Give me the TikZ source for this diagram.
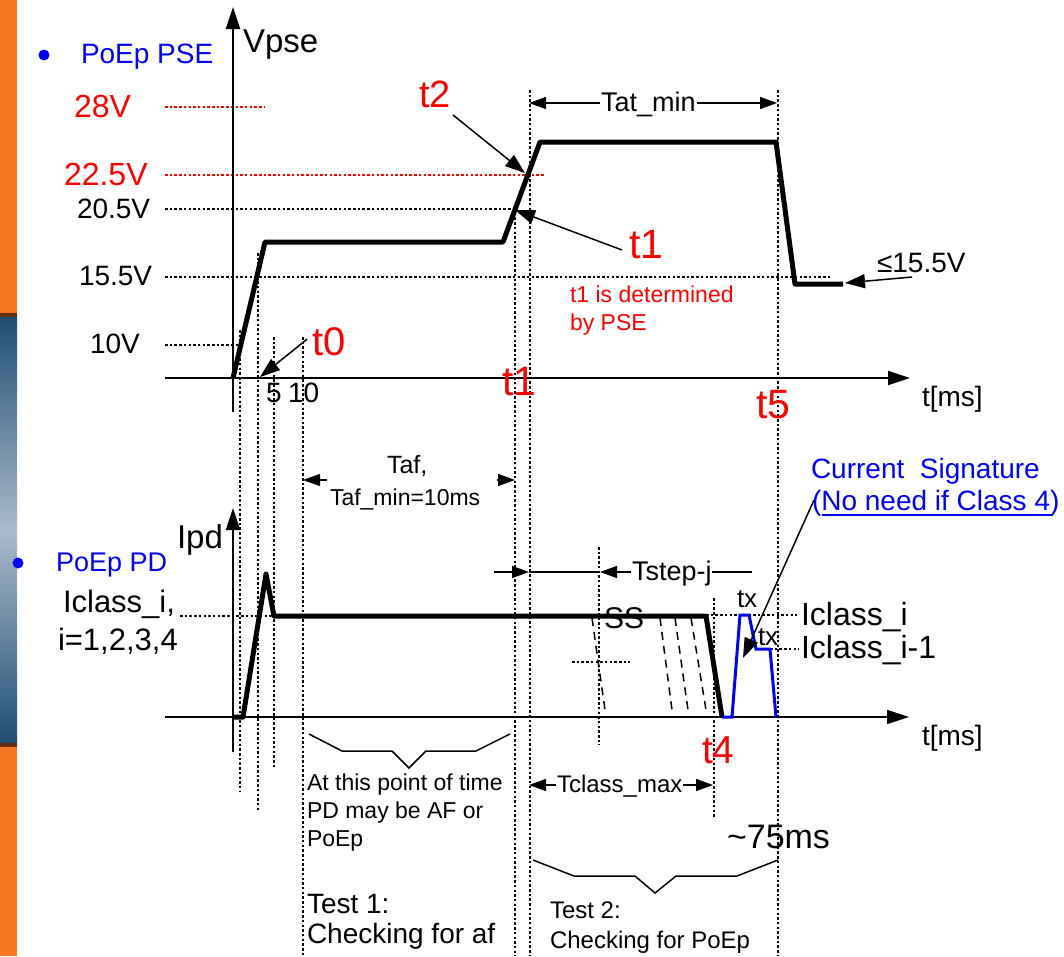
\documentclass[tikz,border=0pt]{standalone}
\usepackage{fontspec}
\setmainfont{Liberation Sans}
\usetikzlibrary{arrows.meta}
\definecolor{orng}{HTML}{F7751E}
\definecolor{bl}{HTML}{0000FF}
\definecolor{rd}{HTML}{FF0000}
\definecolor{stripA}{HTML}{1E4D74}
\definecolor{stripB}{HTML}{A9BBCB}
\newcommand{\fz}[2]{\fontsize{#1}{#2}\selectfont}
\tikzset{
  axisarr/.style={line width=1.8pt, -{Triangle[length=22pt,width=14pt]}},
  sigline/.style={line width=5pt, line join=round},
  bluesig/.style={line width=3pt, draw=bl, line join=miter},
  dotln/.style={line width=1.3pt, dash pattern=on 2.5pt off 2.2pt},
  reddot/.style={dotln, draw=rd},
  lead/.style={line width=1.5pt, -{Triangle[length=20pt,width=14pt]}},
  dimtip/.style={line width=1.3pt, -{Triangle[length=17pt,width=12pt]}},
  thinln/.style={line width=1.3pt},
  dashln/.style={line width=1.5pt, dash pattern=on 8pt off 6pt},
  bracel/.style={line width=1.5pt, line join=miter},
  lbl/.style={inner sep=0pt, outer sep=0pt, anchor=base west},
}
\begin{document}
\begin{tikzpicture}[x=1pt,y=-1pt]
\useasboundingbox (0,0) rectangle (1064,956);
\fill[white] (0,0) rectangle (1064,956);
% left strip
\fill[orng] (0,0) rectangle (17,315);
\fill[orng] (0,745) rectangle (17,956);
\shade[top color=stripA, bottom color=stripA, middle color=stripB] (0,315) rectangle (17,745);
\fill[black!60!orng] (0,313) rectangle (17,317);
\fill[black!60!orng] (0,743) rectangle (17,747);

% bullets and headings
\fill[bl] (44,55) circle (5.5);
\node[lbl, text=bl, font=\fz{28}{32}] (hpse) at (81,63) {PoEp PSE};
\fill[bl] (18,563) circle (5.5);
\node[lbl, text=bl, font=\fz{27}{32}] (hpd) at (56,571) {PoEp PD};

% level labels
\node[lbl, text=rd, font=\fz{32}{36}] (l28) at (74,117) {28V};
\node[lbl, text=rd, font=\fz{32}{36}] (l225) at (64,185) {22.5V};
\node[lbl, font=\fz{28}{32}] (l205) at (77,218) {20.5V};
\node[lbl, font=\fz{28}{32}] (l155) at (79,285) {15.5V};
\node[lbl, font=\fz{28}{32}] (l10) at (90,353) {10V};

% horizontal guide lines
\draw[reddot] (165,107) -- (265,107);
\draw[reddot] (165,175) -- (545,175);
\draw[dotln] (165,209) -- (515,209);
\draw[dotln] (165,277) -- (830,277);
\draw[dotln] (165,345) -- (240,345);

% vertical guide lines
\draw[dotln] (240,330) -- (240,792);
\draw[dotln] (258,253) -- (258,812);
\draw[dotln] (274,337) -- (274,768);
\draw[dotln] (303,337) -- (303,956);
\draw[dotln] (515,208) -- (515,956);
\draw[dotln] (530,90) -- (530,956);
\draw[dotln] (778,90) -- (778,956);
\draw[dotln] (599,547) -- (599,745);
\draw[dotln] (714,598) -- (714,818);

% upper axes
\coordinate (uy0) at (233,412); \coordinate (uy1) at (233,7);
\coordinate (ux0) at (165,378); \coordinate (ux1) at (910,378);
\draw[axisarr] (uy0) -- (uy1);
\draw[axisarr] (ux0) -- (ux1);
\node[lbl, font=\fz{33}{36}] (vpse) at (243,52) {Vpse};
\node[lbl, font=\fz{28}{32}] (tmsu) at (922,406) {t[ms]};

% upper signal
\draw[sigline] (233,378) -- (265,242) -- (503,242) -- (540,142) -- (776,142) -- (795,284) -- (843,284);

% upper labels
\node[lbl, text=rd, font=\fz{40}{44}] (t0) at (312,355) {t0};
\coordinate (t0tip) at (260,377);
\draw[lead] (t0.west) ++(-5,-2) coordinate (t0s) (t0s) -- (t0tip);
\node[lbl, font=\fz{28}{32}] (n5) at (266,402) {5};
\node[lbl, font=\fz{28}{32}] (n10) at (288,402) {10};
\node[lbl, text=rd, font=\fz{38}{42}] (t2) at (419,107) {t2};
\coordinate (t2s) at (453,115); \coordinate (t2tip) at (525,173);
\draw[lead] (t2s) -- (t2tip);
\node[lbl, text=rd, font=\fz{41}{44}] (t1a) at (629,258) {t1};
\coordinate (t1s) at (622,250); \coordinate (t1tip) at (515,210);
\draw[lead] (t1s) -- (t1tip);
\node[lbl, text=rd, font=\fz{23}{28}] (t1d1) at (570,302) {t1 is determined};
\node[lbl, text=rd, font=\fz{23}{28}] (t1d2) at (570,330) {by PSE};
\node[lbl, text=rd, font=\fz{41}{44}] (t1b) at (502,395) {t1};
\node[lbl, text=rd, font=\fz{41}{44}] (t5) at (756,418) {t5};
\node[lbl, font=\fz{28}{32}] (le155) at (877,272) {≤15.5V};
\coordinate (les) at (912,277); \coordinate (letip) at (845,283);
\draw[lead] (les) -- (letip);

% Tat_min
\node[lbl, font=\fz{27}{30}] (tat) at (601,111) {Tat\_min};
\coordinate (tatL) at (529,103); \coordinate (tatR) at (777,103);
\draw[dimtip] (tat.west |- tatL) ++(-1,0) -- (tatL);
\draw[dimtip] (tat.east |- tatR) ++(1,0) -- (tatR);

% Taf
\node[lbl, font=\fz{25}{28}] (taf) at (387,473) {Taf,};
\node[lbl, font=\fz{23}{26}] (tafmin) at (330,505) {Taf\_min=10ms};
\coordinate (tafL) at (303,480); \coordinate (tafR) at (515,480);
\coordinate (tafLs) at (327,480); \coordinate (tafRs) at (497,480);
\draw[dimtip] (tafLs) -- (tafL);
\draw[dimtip] (tafRs) -- (tafR);

% lower axes
\coordinate (ly0) at (233,752); \coordinate (ly1) at (233,508);
\coordinate (lx0) at (165,717); \coordinate (lx1) at (909,717);
\draw[axisarr] (ly0) -- (ly1);
\draw[axisarr] (lx0) -- (lx1);
\node[lbl, font=\fz{33}{36}] (ipd) at (177,548) {Ipd};
\node[lbl, font=\fz{28}{32}] (tmsl) at (922,745) {t[ms]};
\node[lbl, font=\fz{31}{34}] (icl) at (63,612) {Iclass\_i,};
\node[lbl, font=\fz{31}{34}] (ieq) at (58,650) {i=1,2,3,4};

% lower guide lines
\draw[dotln] (180,616) -- (274,616);
\draw[dotln] (706,615) -- (797,615);
\draw[dotln] (770,649) -- (799,649);
\draw[dotln] (572,662) -- (630,662);

% dashed step lines
\draw[dashln] (592,618) -- (605,710);
\draw[dashln] (660,618) -- (672,710);
\draw[dashln] (675,618) -- (688,710);
\draw[dashln] (691,618) -- (706,710);

% lower signal
\draw[sigline] (233,717) -- (243,717) -- (266,574) -- (274,616) -- (706,616) -- (722,717);
\draw[bluesig] (722,717) -- (732,717) -- (740,615) -- (749,615) -- (756,649) -- (770,649) -- (776,717);

\node[lbl, font=\fz{30}{32}] (ss) at (604,628) {SS};
\node[lbl, font=\fz{26}{28}] (tx1) at (737,607) {tx};
\node[lbl, font=\fz{26}{28}] (tx2) at (758,645) {tx};
\node[lbl, font=\fz{32}{34}] (icli) at (801,625) {Iclass\_i};
\node[lbl, font=\fz{32}{34}] (icli1) at (801,658) {Iclass\_i-1};
\node[lbl, text=rd, font=\fz{39}{42}] (t4) at (702,763) {t4};

% current signature
\node[lbl, text=bl, font=\fz{28}{32}] (cs1) at (811,478) {Current\ \ Signature};
\node[lbl, text=bl, font=\fz{28}{32}] (cs2) at (812,510) {(No need if Class 4)};
\draw[bl, line width=1.5pt] (822,515) -- (1053,515);
\coordinate (css) at (814,500); \coordinate (cstip) at (743,658);
\draw[lead] (css) -- (cstip);

% Tstep-j
\node[lbl, font=\fz{27}{30}] (tstep) at (632,580) {Tstep-j};
\coordinate (tsA) at (494,572); \coordinate (tsB) at (529,572); \coordinate (tsC) at (600,572); \coordinate (tsD) at (752,572);
\draw[dimtip] (tsA) -- (tsB);
\draw[thinln] (tsB) -- (tsC);
\draw[dimtip] (tstep.west |- tsC) ++(-1,0) -- (tsC);
\draw[thinln] (tstep.east |- tsD) -- (tsD);

% Tclass_max
\node[lbl, font=\fz{24}{28}] (tcl) at (557,792) {Tclass\_max};
\coordinate (tcL) at (529,785); \coordinate (tcR) at (713,785);
\draw[dimtip] (tcl.west |- tcL) ++(-1,0) -- (tcL);
\draw[dimtip] (tcl.east |- tcR) ++(1,0) -- (tcR);

\node[lbl, font=\fz{34}{38}] (t75) at (727,848) {\textasciitilde75ms};

% braces
\draw[bracel] (309,734) -- (342,751) -- (392,751) -- (409,768) -- (426,751) -- (476,751) -- (510,734);
\draw[bracel] (533,860) -- (574,876) -- (635,876) -- (655,893) -- (676,876) -- (737,876) -- (778,860);

% bottom texts
\node[lbl, font=\fz{23}{28}] (at1) at (307,790) {At this point of time};
\node[lbl, font=\fz{23}{28}] (at2) at (307,818) {PD may be AF or};
\node[lbl, font=\fz{23}{28}] (at3) at (307,846) {PoEp};
\node[lbl, font=\fz{28}{32}] (tst1) at (307,913) {Test 1:};
\node[lbl, font=\fz{28}{32}] (tst1b) at (307,943) {Checking for af};
\node[lbl, font=\fz{24}{28}] (tst2) at (550,918) {Test 2:};
\node[lbl, font=\fz{24}{28}] (tst2b) at (550,948) {Checking for PoEp};
\end{tikzpicture}
\end{document}
